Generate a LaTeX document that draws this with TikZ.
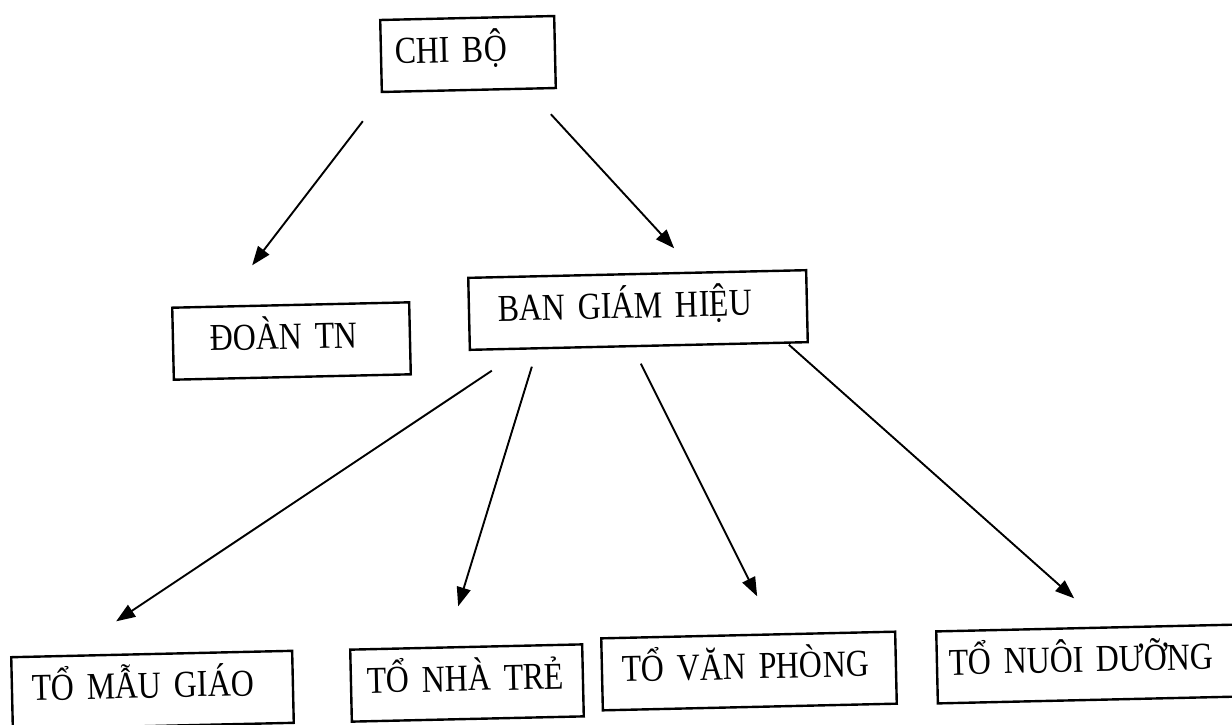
\documentclass[tikz,border=0pt]{standalone}
\usepackage{fontspec}
\setmainfont{Liberation Serif}[FakeStretch=0.84]
\usetikzlibrary{arrows.meta,calc}

\tikzset{
  unit/.style={draw,line width=2.4pt,inner ysep=0pt,text height=44pt,text depth=28pt,
    align=left,rotate=1.3,font=\fontsize{38}{44}\selectfont},
  link/.style={line width=1.9pt,-{Triangle[length=19pt,width=14pt]}}
}

\begin{document}
\begin{tikzpicture}[x=1pt,y=-1pt]
\useasboundingbox (0,0) rectangle (1232,724);

% top levels
\node[unit,inner xsep=14pt,text width=146pt] (chibo) at (468,54) {CHI BỘ};
\node[unit,inner xsep=37pt,text width=163pt] (doan) at (291.5,341) {ĐOÀN TN};
\node[unit,inner xsep=29pt,text width=280pt] (bgh) at (638,310) {BAN GIÁM HIỆU};

% to
\node[unit,inner xsep=20pt,text width=241pt] (maugiao) at (152.5,690) {TỔ MẪU GIÁO};
\node[unit,inner xsep=16pt,text width=200pt] (nhatre) at (467,683) {TỔ NHÀ TRẺ};
\node[unit,inner xsep=20pt,text width=254pt] (vanphong) at (749,671) {TỔ VĂN PHÒNG};
\node[unit,inner xsep=12pt,text width=276pt] (nuoiduong) at (1087,664) {TỔ NUÔI DƯỠNG};

\draw[link] ($(chibo.south)+(-106,30)$) -- ($(doan.north)+(-38.5,-38.5)$);
\draw[link] ($(chibo.south)+(82,23)$) -- ($(bgh.north)+(37,-24.5)$);

\draw[link] ($(bgh.south)+(-147,23.5)$) -- ($(maugiao.north)+(-35.5,-31.5)$);
\draw[link] ($(bgh.south)+(-107,19.5)$) -- ($(nhatre.north)+(-8,-39.5)$);
\draw[link] ($(bgh.south)+(2,16.5)$) -- ($(vanphong.north)+(9,-37.5)$);
\draw[link] ($(bgh.south)+(150,-2.5)$) -- ($(nuoiduong.north)+(-12,-28.5)$);
\end{tikzpicture}
\end{document}
